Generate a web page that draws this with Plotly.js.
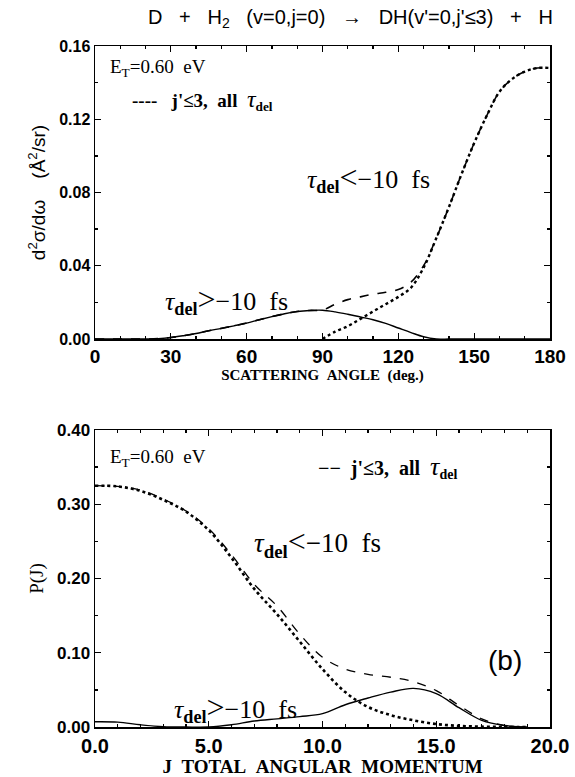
<!DOCTYPE html>
<html>
<head>
<meta charset="utf-8">
<script src="https://cdn.plot.ly/plotly-3.0.1.min.js"></script>
<style>html,body{margin:0;padding:0;background:#fff;}#chart{width:575px;height:777px;}</style>
</head>
<body>
<div id="chart"></div>
<script>
// ---- Panel (a): differential cross section vs scattering angle ----
const angle = [0,5,10,15,20,25,30,35,40,45,50,55,60,65,70,75,80,85,90,95,100,105,110,115,120,125,130,135,140,145,150,155,160,165,170,175,180];
const dcsGt = [0,0,0,0,0,0.0002,0.0008,0.0018,0.003,0.0045,0.0058,0.0072,0.0087,0.0105,0.0122,0.0138,0.015,0.0156,0.0157,0.0148,0.0135,0.0120,0.0105,0.0085,0.0060,0.0035,0.0012,0,0,0,0,0,0,0,0,0,0];
const dcsLt = [null,null,null,null,null,null,null,null,null,null,null,null,null,null,null,null,null,null,0,0.004,0.007,0.011,0.015,0.019,0.023,0.028,0.039,0.055,0.072,0.090,0.107,0.122,0.135,0.142,0.146,0.148,0.148];
const dcsAll = [0,0,0,0,0,0.0002,0.0008,0.0018,0.003,0.0045,0.0058,0.0072,0.0087,0.0105,0.0122,0.0138,0.015,0.0156,0.0158,0.019,0.0215,0.023,0.0245,0.0255,0.027,0.031,0.040,0.055,0.072,0.090,0.107,0.122,0.135,0.142,0.146,0.148,0.148];
const angleTicks = [0,30,60,90,120,150,180];
const dcsTicks = [0,0.04,0.08,0.12,0.16];

// ---- Panel (b): P(J) vs total angular momentum ----
const Jval = [0,1,2,3,4,5,6,7,8,9,10,11,12,13,14,15,16,17,18,19];
const pLt  = [0.325,0.324,0.318,0.306,0.290,0.265,0.228,0.186,0.152,0.115,0.078,0.047,0.027,0.016,0.009,0.004,0.0015,0.0005,0,0];
const pAll = [0.325,0.324,0.319,0.307,0.291,0.267,0.232,0.192,0.163,0.125,0.094,0.078,0.071,0.067,0.061,0.049,0.029,0.011,0.002,0];
const pGt  = [0.007,0.0065,0.003,0.0005,0,0,0.003,0.008,0.011,0.014,0.018,0.030,0.039,0.047,0.052,0.045,0.026,0.009,0.002,0];
const JTicks = [0,5,10,15,20];
const pTicks = [0,0.1,0.2,0.3,0.4];

const serif = "Liberation Serif, DejaVu Serif, serif";
const sans = "Liberation Sans, Arial, sans-serif";

const traces = [
  {x: angle, y: dcsAll, xaxis:'x', yaxis:'y', mode:'lines', line:{color:'#000', width:1.6, dash:'dash', shape:'spline'}, connectgaps:false},
  {x: angle, y: dcsLt,  xaxis:'x', yaxis:'y', mode:'lines', line:{color:'#000', width:2.4, dash:'dot', shape:'spline'}, connectgaps:false},
  {x: angle, y: dcsGt,  xaxis:'x', yaxis:'y', mode:'lines', line:{color:'#000', width:1.4, shape:'spline'}},
  {x: Jval, y: pAll, xaxis:'x2', yaxis:'y2', mode:'lines', line:{color:'#000', width:1.3, dash:'dash', shape:'spline'}},
  {x: Jval, y: pLt,  xaxis:'x2', yaxis:'y2', mode:'lines', line:{color:'#000', width:2.6, dash:'dot', shape:'spline'}},
  {x: Jval, y: pGt,  xaxis:'x2', yaxis:'y2', mode:'lines', line:{color:'#000', width:1.4, shape:'spline'}}
];

const axBase = {
  showline:true, linecolor:'#000', linewidth:1.5, mirror:'allticks',
  ticks:'inside', ticklen:6, tickwidth:1.3, tickcolor:'#000',
  showgrid:false, zeroline:false,
  tickfont:{family:sans, size:16, color:'#000', weight:'bold'}
};

const tau = (op) => '<i>τ</i><sub><b>del</b></sub><span style="font-size:32px">' + op + '</span>−10&nbsp;&nbsp;fs';
const sp = '&nbsp;&nbsp;&nbsp;';

const layout = {
  width:575, height:777,
  margin:{l:95, r:25, t:46, b:50},
  paper_bgcolor:'#fff', plot_bgcolor:'#fff',
  showlegend:false,
  title:{text:"D"+sp+"+"+sp+"H<sub>2</sub>"+sp+"(v=0,j=0)"+sp+"→"+sp+"DH(v'=0,j'≤3)"+sp+"+"+sp+"H",
         x:148/575, xref:'container', xanchor:'left', y:1-17/777, yref:'container', yanchor:'middle',
         font:{family:sans, size:20, color:'#000'}},
  xaxis: Object.assign({}, axBase, {
    domain:[0,1], anchor:'y', range:[0,180], tickmode:'array', tickvals:angleTicks,
    ticktext:angleTicks.map(String),
    tickfont:{family:sans, size:19, color:'#000', weight:'bold'},
    minor:{dtick:10, ticklen:3, tickcolor:'#000', ticks:'inside'},
    title:{text:'SCATTERING&nbsp;&nbsp;ANGLE&nbsp;&nbsp;(deg.)', standoff:0, font:{family:serif, size:15, color:'#000', weight:'bold'}}
  }),
  yaxis: Object.assign({}, axBase, {
    domain:[(727-339)/681, 1], anchor:'x', range:[0,0.16], tickmode:'array', tickvals:dcsTicks,
    ticktext:dcsTicks.map(v=>v.toFixed(2)),
    minor:{dtick:0.02, ticklen:3, tickcolor:'#000', ticks:'inside'},
    title:{text:'d<sup>2</sup>σ/dω&nbsp;&nbsp;&nbsp;&nbsp;(Å<sup>2</sup>/sr)', standoff:8, font:{family:sans, size:19, color:'#000'}}
  }),
  xaxis2: Object.assign({}, axBase, {
    domain:[0,1], anchor:'y2', range:[0,20], tickmode:'array', tickvals:JTicks,
    ticktext:JTicks.map(v=>v.toFixed(1)),
    tickfont:{family:sans, size:20, color:'#000', weight:'bold'},
    minor:{dtick:1, ticklen:3, tickcolor:'#000', ticks:'inside'},
    title:{text:'J&nbsp;&nbsp;TOTAL&nbsp;&nbsp;ANGULAR&nbsp;&nbsp;MOMENTUM', standoff:0, font:{family:serif, size:19, color:'#000', weight:'bold'}}
  }),
  yaxis2: Object.assign({}, axBase, {
    domain:[0, (727-430)/681], anchor:'x2', range:[0,0.4], tickmode:'array', tickvals:pTicks,
    ticktext:pTicks.map(v=>v.toFixed(2)),
    tickfont:{family:sans, size:17, color:'#000', weight:'bold'},
    minor:{dtick:0.05, ticklen:3, tickcolor:'#000', ticks:'inside'},
    title:{text:'P(J)', standoff:8, font:{family:serif, size:19, color:'#000'}}
  }),
  annotations:[
    {xref:'x', yref:'y', x:5, y:0.148, xanchor:'left', yanchor:'middle', showarrow:false,
     text:'E<sub>T</sub>=0.60&nbsp;&nbsp;eV', font:{family:serif, size:19, color:'#000'}},
    {xref:'x', yref:'y', x:14, y:0.1305, xanchor:'left', yanchor:'middle', showarrow:false,
     text:'<b>----</b>&nbsp;&nbsp;&nbsp;<b>j\'≤3,&nbsp;&nbsp;all</b>&nbsp;&nbsp;<i><span style="font-size:24px">τ</span></i><sub><b>del</b></sub>', font:{family:serif, size:19, color:'#000'}},
    {xref:'x', yref:'y', x:83, y:0.088, xanchor:'left', yanchor:'middle', showarrow:false,
     text:tau('&lt;'), font:{family:serif, size:26, color:'#000'}},
    {xref:'x', yref:'y', x:27, y:0.0215, xanchor:'left', yanchor:'middle', showarrow:false,
     text:tau('&gt;'), font:{family:serif, size:26, color:'#000'}},
    {xref:'x2', yref:'y2', x:0.57, y:0.362, xanchor:'left', yanchor:'middle', showarrow:false,
     text:'E<sub>T</sub>=0.60&nbsp;&nbsp;eV', font:{family:serif, size:19, color:'#000'}},
    {xref:'x2', yref:'y2', x:9.7, y:0.350, xanchor:'left', yanchor:'middle', showarrow:false,
     text:'<b>−−</b>&nbsp;&nbsp;<b>j\'≤3,&nbsp;&nbsp;all</b>&nbsp;&nbsp;<i><span style="font-size:26px">τ</span></i><sub><b>del</b></sub>', font:{family:serif, size:20, color:'#000'}},
    {xref:'x2', yref:'y2', x:6.9, y:0.248, xanchor:'left', yanchor:'middle', showarrow:false,
     text:tau('&lt;'), font:{family:serif, size:27, color:'#000'}},
    {xref:'x2', yref:'y2', x:3.4, y:0.026, xanchor:'left', yanchor:'middle', showarrow:false,
     text:tau('&gt;'), font:{family:serif, size:26, color:'#000'}},
    {xref:'x2', yref:'y2', x:18.0, y:0.09, xanchor:'center', yanchor:'middle', showarrow:false,
     text:'(b)', font:{family:sans, size:28, color:'#000'}}
  ]
};

Plotly.newPlot('chart', traces, layout, {staticPlot:true, displayModeBar:false});
</script>
</body>
</html>
